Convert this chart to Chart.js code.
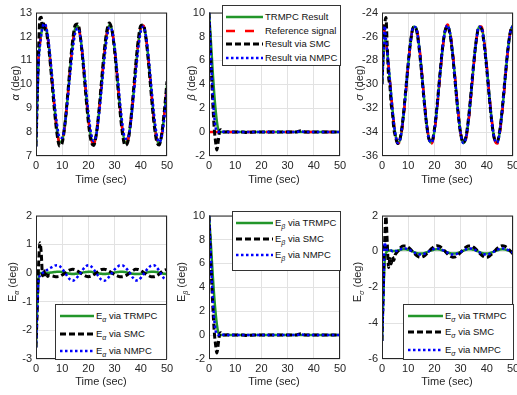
<!DOCTYPE html>
<html>
<head>
<meta charset="utf-8">
<script src="https://cdn.jsdelivr.net/npm/chart.js@4.4.1/dist/chart.umd.min.js"></script>
<style>
body { margin: 0; width: 517px; height: 395px; overflow: hidden; position: relative; background: #fff;
       font-family: "Liberation Sans", Arial, sans-serif; color: #262626; }
canvas { position: absolute; z-index: 1; }
.yt { position: absolute; z-index: 2; font-size: 11px; white-space: nowrap; transform: translate(-50%, -50%) rotate(-90deg); }
.xt { position: absolute; z-index: 2; font-size: 11px; white-space: nowrap; transform: translateX(-50%); }
.lg { position: absolute; z-index: 2; background: #fff; border: 1px solid #333; box-sizing: border-box; font-size: 9.5px; color: #111; }
.lg div { position: absolute; height: 12px; line-height: 12px; white-space: nowrap; }
.lg svg { position: absolute; top: 0; }
sub { font-size: 7px; font-style: italic; vertical-align: -3px; line-height: 0; }
</style>
</head>
<body>

<div class="yt" style="left:15px;top:83px"><i>α</i> (deg)</div>
<div class="yt" style="left:191px;top:83px"><i>β</i> (deg)</div>
<div class="yt" style="left:359px;top:83px"><i>σ</i> (deg)</div>
<div class="yt" style="left:12px;top:282px">E<sub>α</sub> (deg)</div>
<div class="yt" style="left:181px;top:282px">E<sub>β</sub> (deg)</div>
<div class="yt" style="left:357px;top:282px">E<sub>σ</sub> (deg)</div>

<div class="xt" style="left:101px;top:173px">Time (sec)</div>
<div class="xt" style="left:274px;top:173px">Time (sec)</div>
<div class="xt" style="left:447px;top:173px">Time (sec)</div>
<div class="xt" style="left:101px;top:375px">Time (sec)</div>
<div class="xt" style="left:274px;top:375px">Time (sec)</div>
<div class="xt" style="left:447px;top:375px">Time (sec)</div>

<div id="legends"></div>

<script>
// time axis (sec)
const time = [0, 0.5, 1, 1.5, 2, 2.5, 3, 3.5, 4, 4.5, 5,
  6, 7, 8, 9, 10, 11, 12, 13, 14, 15, 16, 17, 18, 19, 20,
  21, 22, 23, 24, 25, 26, 27, 28, 29, 30, 31, 32, 33, 34, 35,
  36, 37, 38, 39, 40, 41, 42, 43, 44, 45, 46, 47, 48, 49, 50];

// reference signals (deg)
const refAlpha = [10, 10.62, 11.2, 11.71, 12.11, 12.38, 12.5, 12.46, 12.26, 11.93, 11.47,
  10.31, 9.08, 8.07, 7.54, 7.62, 8.29, 9.38, 10.62, 11.71, 12.38, 12.46, 11.93, 10.92, 9.69, 8.53,
  7.74, 7.5, 7.89, 8.8, 10, 11.2, 12.11, 12.5, 12.26, 11.47, 10.31, 9.08, 8.07, 7.54, 7.62,
  8.29, 9.38, 10.62, 11.71, 12.38, 12.46, 11.93, 10.92, 9.69, 8.53, 7.74, 7.5, 7.89, 8.8, 10];
const refBeta = [0, 0, 0, 0, 0, 0, 0, 0, 0, 0, 0,
  0, 0, 0, 0, 0, 0, 0, 0, 0, 0, 0, 0, 0, 0, 0,
  0, 0, 0, 0, 0, 0, 0, 0, 0, 0, 0, 0, 0, 0, 0,
  0, 0, 0, 0, 0, 0, 0, 0, 0, 0, 0, 0, 0, 0, 0];
const refSigma = [-25, -25.16, -25.62, -26.36, -27.32, -28.46, -29.69, -30.94, -32.13, -33.19, -34.05,
  -34.96, -34.65, -33.19, -30.94, -28.46, -26.36, -25.16, -25.16, -26.36, -28.46, -30.94, -33.19, -34.65, -34.96, -34.05,
  -32.13, -29.69, -27.32, -25.62, -25, -25.62, -27.32, -29.69, -32.13, -34.05, -34.96, -34.65, -33.19, -30.94, -28.46,
  -26.36, -25.16, -25.16, -26.36, -28.46, -30.94, -33.19, -34.65, -34.96, -34.05, -32.13, -29.69, -27.32, -25.62, -25];

// tracking errors E = result - reference (deg)
const errAlphaTrmpc = [-2.6, -1.0, -0.15, 0, 0, 0, 0, 0, 0, 0.01, 0.01,
  0.02, 0.03, 0.04, 0.04, 0.03, 0.01, -0.01, -0.03, -0.04, -0.03, -0.02, 0, 0.02, 0.03, 0.04,
  0.04, 0.02, 0, -0.02, -0.03, -0.04, -0.03, -0.02, 0, 0.02, 0.03, 0.04, 0.04, 0.03, 0.01,
  -0.01, -0.03, -0.04, -0.04, -0.03, -0.01, 0.01, 0.03, 0.04, 0.04, 0.03, 0.01, -0.01, -0.03, -0.04];
const errAlphaSmc = [-2.6, -1.2, 0.3, 1.05, 0.7, -0.1, 0.1, -0.15, -0.05, -0.12, -0.08,
  -0.1, -0.12, -0.13, -0.12, -0.07, -0.01, 0.06, 0.11, 0.13, 0.11, 0.06, 0, -0.06, -0.11, -0.13,
  -0.11, -0.06, 0, 0.07, 0.12, 0.13, 0.11, 0.06, 0, -0.06, -0.1, -0.13, -0.13, -0.1, -0.05,
  0.02, 0.08, 0.13, 0.12, 0.08, 0.02, -0.04, -0.09, -0.13, -0.13, -0.1, -0.04, 0.04, 0.1, 0.12];
const errAlphaNmpc = [-2.6, -1.1, -0.25, -0.1, -0.05, 0, 0.03, 0.06, 0.09, 0.12, 0.15,
  0.2, 0.25, 0.27, 0.24, 0.14, 0.02, -0.12, -0.23, -0.27, -0.22, -0.12, 0, 0.13, 0.23, 0.27,
  0.23, 0.13, 0, -0.14, -0.24, -0.27, -0.22, -0.12, 0, 0.12, 0.21, 0.26, 0.26, 0.2, 0.1,
  -0.03, -0.17, -0.26, -0.25, -0.17, -0.05, 0.08, 0.19, 0.26, 0.27, 0.2, 0.08, -0.08, -0.2, -0.24];

const errBetaTrmpc = [10, 8.4, 6.6, 4.8, 3.2, 1.9, 0.9, 0.25, 0.05, 0, 0,
  0, 0, 0, 0, 0, 0, 0, 0, 0, 0, 0, 0, 0, 0, 0,
  0, 0, 0, 0, 0, 0, 0, 0, 0, 0, 0, 0, 0, 0, 0,
  0, 0, 0, 0, 0, 0, 0, 0, 0, 0, 0, 0, 0, 0, 0];
const errBetaSmc = [10, 7.2, 4.6, 2.2, 0.3, -0.8, -1.5, -0.8, 0, 0.2, 0.05,
  0, 0.02, 0, 0, 0, 0, 0, 0, -0.03, -0.05, -0.02, 0, 0, 0, 0,
  0, 0, 0, 0, 0, 0, 0, 0, 0, 0, 0, 0, 0, 0.05, 0.12,
  0.05, 0, 0, 0, 0, 0, 0, 0, 0, 0, 0, 0, 0, 0, 0];
const errBetaNmpc = [10, 7.4, 5.0, 2.8, 1.3, 0.4, 0.05, 0, 0.05, 0.08, 0.03,
  0.02, 0, 0, 0, 0, 0, 0, 0, 0, 0, 0, 0, 0, 0, 0,
  0, 0, 0, 0, 0, 0, 0, 0, 0, 0, 0, 0, 0, 0.03, 0.08,
  0.03, 0, 0, 0, 0, 0, 0, 0, 0, 0, 0, 0, 0, 0, 0];

const errSigmaTrmpc = [-5, -2.5, -0.6, -0.1, 0, 0.05, 0.05, 0.05, 0.03, 0.02, 0.02,
  0.04, 0.09, 0.12, 0.12, 0.09, 0.04, -0.02, -0.08, -0.11, -0.12, -0.1, -0.05, 0.01, 0.06, 0.11,
  0.12, 0.11, 0.06, 0.01, -0.05, -0.1, -0.12, -0.11, -0.08, -0.02, 0.04, 0.09, 0.12, 0.12, 0.09,
  0.04, -0.02, -0.08, -0.11, -0.12, -0.1, -0.05, 0.01, 0.06, 0.11, 0.12, 0.11, 0.06, 0.01, -0.05];
const errSigmaSmc = [-5, -2.0, 0.5, 1.95, 0.5, -0.9, -0.4, -0.7, -0.3, -0.5, -0.2,
  0, 0.2, 0.31, 0.31, 0.23, 0.1, -0.06, -0.2, -0.3, -0.32, -0.26, -0.14, 0.02, 0.17, 0.28,
  0.32, 0.28, 0.17, 0.02, -0.14, -0.26, -0.32, -0.3, -0.2, -0.06, 0.1, 0.23, 0.31, 0.31, 0.23,
  0.1, -0.06, -0.2, -0.3, -0.32, -0.26, -0.14, 0.02, 0.17, 0.28, 0.32, 0.28, 0.17, 0.02, -0.14];
const errSigmaNmpc = [-5, -2.8, 0.5, 0.2, 0.1, 0.1, 0.05, 0.05, 0, 0, 0.02,
  0.05, 0.12, 0.16, 0.16, 0.12, 0.05, -0.03, -0.11, -0.16, -0.17, -0.14, -0.07, 0.01, 0.09, 0.15,
  0.17, 0.15, 0.09, 0.01, -0.07, -0.14, -0.17, -0.16, -0.11, -0.03, 0.05, 0.12, 0.16, 0.16, 0.12,
  0.05, -0.03, -0.11, -0.16, -0.17, -0.14, -0.07, 0.01, 0.09, 0.15, 0.17, 0.15, 0.09, 0.01, -0.07];

// axis ranges [min, max, step]
const yAlpha = [7, 13, 1], yBeta = [-2, 10, 2], ySigma = [-36, -24, 2];
const yEAlpha = [-3, 2, 1], yEBeta = [-2, 10, 2], yESigma = [-6, 2, 2];
const xTicks = [0, 50, 10];

Chart.defaults.font.family = '"Liberation Sans", Arial, sans-serif';
Chart.defaults.font.size = 11;
Chart.defaults.color = '#262626';

const L = 30, T = 8, R = 10, B = 22;

const styles = {
  trmpc: { borderColor: '#22962a', borderWidth: 2.5, borderDash: [], order: 4 },
  ref:   { borderColor: '#ff0000', borderWidth: 2.5, borderDash: [9, 10], order: 3 },
  smc:   { borderColor: '#000000', borderWidth: 3, borderDash: [6, 3], order: 2 },
  nmpc:  { borderColor: '#0000ff', borderWidth: 2.5, borderDash: [2.5, 2.5], order: 1 }
};

// full MATLAB-like box around the axes
const boxPlugin = {
  id: 'box',
  afterDraw(chart) {
    const { ctx, chartArea: a } = chart;
    ctx.save();
    ctx.strokeStyle = '#262626';
    ctx.lineWidth = 1;
    ctx.strokeRect(a.left + 0.5, a.top + 0.5, a.right - a.left - 1, a.bottom - a.top - 1);
    ctx.restore();
  }
};

function series(label, arr, st) {
  return Object.assign({
    label: label,
    data: time.map((t, i) => ({ x: t, y: arr[i] })),
    pointRadius: 0,
    fill: false,
    cubicInterpolationMode: 'monotone',
    borderCapStyle: 'butt'
  }, st);
}

function plus(a, b) { return a.map((v, i) => v + b[i]); }

function plot(area, yr, sets) {
  const c = document.createElement('canvas');
  c.width = area.w + L + R;
  c.height = area.h + T + B;
  c.style.left = (area.x - L) + 'px';
  c.style.top = (area.y - T) + 'px';
  document.body.appendChild(c);
  new Chart(c.getContext('2d'), {
    type: 'line',
    data: { datasets: sets },
    options: {
      responsive: false,
      animation: false,
      devicePixelRatio: 1,
      layout: { padding: { top: T, right: R, left: 0, bottom: 0 } },
      plugins: { legend: { display: false }, tooltip: { enabled: false } },
      scales: {
        x: {
          type: 'linear', min: xTicks[0], max: xTicks[1],
          ticks: { stepSize: xTicks[2], padding: 3, maxRotation: 0, autoSkip: false },
          grid: { color: '#e2e2e2', drawTicks: false },
          border: { display: false },
          afterFit(s) { s.height = B; }
        },
        y: {
          min: yr[0], max: yr[1],
          ticks: { stepSize: yr[2], padding: 4, autoSkip: false },
          grid: { color: '#e2e2e2', drawTicks: false },
          border: { display: false },
          afterFit(s) { s.width = L; }
        }
      }
    },
    plugins: [boxPlugin]
  });
}

// top row: angles
plot({ x: 36, y: 10, w: 131, h: 146 }, yAlpha, [
  series('TRMPC Result', plus(refAlpha, errAlphaTrmpc), styles.trmpc),
  series('Reference signal', refAlpha, styles.ref),
  series('Result via SMC', plus(refAlpha, errAlphaSmc), styles.smc),
  series('Result via NMPC', plus(refAlpha, errAlphaNmpc), styles.nmpc)
]);
plot({ x: 209, y: 10, w: 131, h: 146 }, yBeta, [
  series('TRMPC Result', plus(refBeta, errBetaTrmpc), styles.trmpc),
  series('Reference signal', refBeta, styles.ref),
  series('Result via SMC', plus(refBeta, errBetaSmc), styles.smc),
  series('Result via NMPC', plus(refBeta, errBetaNmpc), styles.nmpc)
]);
plot({ x: 382, y: 10, w: 131, h: 146 }, ySigma, [
  series('TRMPC Result', plus(refSigma, errSigmaTrmpc), styles.trmpc),
  series('Reference signal', refSigma, styles.ref),
  series('Result via SMC', plus(refSigma, errSigmaSmc), styles.smc),
  series('Result via NMPC', plus(refSigma, errSigmaNmpc), styles.nmpc)
]);

// bottom row: errors
plot({ x: 36, y: 213, w: 131, h: 146 }, yEAlpha, [
  series('E alpha via TRMPC', errAlphaTrmpc, styles.trmpc),
  series('E alpha via SMC', errAlphaSmc, styles.smc),
  series('E alpha via NMPC', errAlphaNmpc, styles.nmpc)
]);
plot({ x: 209, y: 213, w: 131, h: 146 }, yEBeta, [
  series('E beta via TRMPC', errBetaTrmpc, styles.trmpc),
  series('E beta via SMC', errBetaSmc, styles.smc),
  series('E beta via NMPC', errBetaNmpc, styles.nmpc)
]);
plot({ x: 382, y: 213, w: 131, h: 146 }, yESigma, [
  series('E sigma via TRMPC', errSigmaTrmpc, styles.trmpc),
  series('E sigma via SMC', errSigmaSmc, styles.smc),
  series('E sigma via NMPC', errSigmaNmpc, styles.nmpc)
]);

// legends drawn as HTML boxes inside the axes
function sample(st, len) {
  const dash = st.borderDash.length ? ' stroke-dasharray="' + st.borderDash.join(' ') + '"' : '';
  return '<svg width="' + len + '" height="12"><line x1="0" y1="6" x2="' + len + '" y2="6" stroke="' +
    st.borderColor + '" stroke-width="' + st.borderWidth + '"' + dash + '/></svg>';
}
function legend(box, rows) {
  let html = '<div class="lg" style="left:' + box.x + 'px;top:' + box.y + 'px;width:' + box.w + 'px;height:' + box.h + 'px">';
  rows.forEach(r => {
    html += '<div style="left:' + box.sx + 'px;top:' + (r.y - 6) + 'px;width:' + (box.w - box.sx - 2) + 'px">' +
      sample(r.st, box.sl) + '<span style="position:absolute;left:' + (box.sl + 2) + 'px">' + r.text + '</span></div>';
  });
  document.getElementById('legends').innerHTML += html + '</div>';
}

legend({ x: 222, y: 5, w: 119, h: 61, sx: 3, sl: 37 }, [
  { y: 11, st: styles.trmpc, text: 'TRMPC Result' },
  { y: 25, st: styles.ref, text: 'Reference signal' },
  { y: 38, st: styles.smc, text: 'Result via SMC' },
  { y: 52, st: styles.nmpc, text: 'Result via NMPC' }
]);
legend({ x: 55, y: 304, w: 112, h: 56, sx: 4, sl: 34 }, [
  { y: 11, st: styles.trmpc, text: 'E<sub>α</sub> via TRMPC' },
  { y: 29, st: styles.smc, text: 'E<sub>α</sub> via SMC' },
  { y: 46, st: styles.nmpc, text: 'E<sub>α</sub> via NMPC' }
]);
legend({ x: 232, y: 211, w: 109, h: 60, sx: 3, sl: 37 }, [
  { y: 11, st: styles.trmpc, text: 'E<sub>β</sub> via TRMPC' },
  { y: 27, st: styles.smc, text: 'E<sub>β</sub> via SMC' },
  { y: 43, st: styles.nmpc, text: 'E<sub>β</sub> via NMPC' }
]);
legend({ x: 403, y: 304, w: 111, h: 56, sx: 4, sl: 35 }, [
  { y: 11, st: styles.trmpc, text: 'E<sub>σ</sub> via TRMPC' },
  { y: 27, st: styles.smc, text: 'E<sub>σ</sub> via SMC' },
  { y: 45, st: styles.nmpc, text: 'E<sub>σ</sub> via NMPC' }
]);
</script>
</body>
</html>
